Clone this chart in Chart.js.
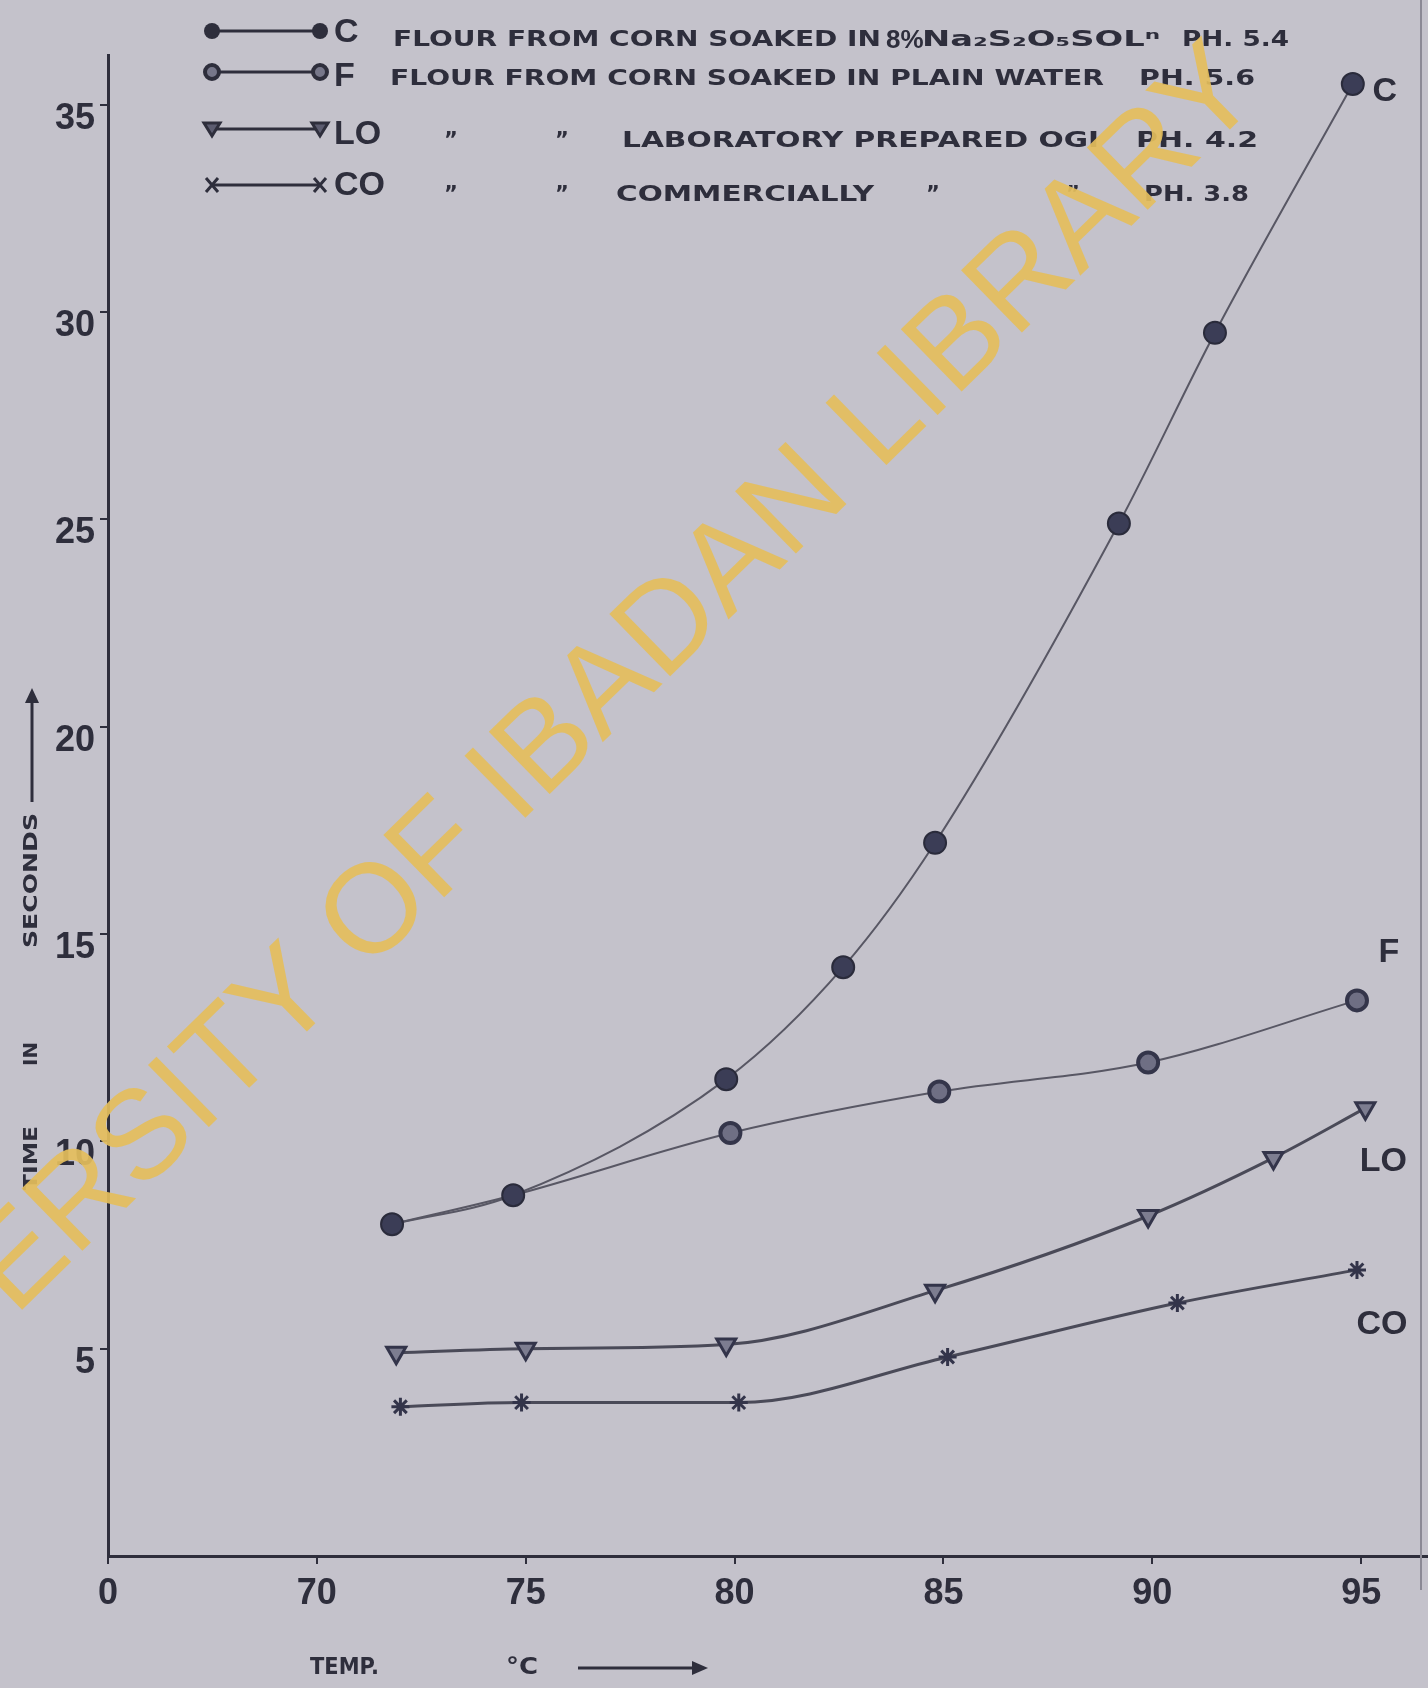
<!DOCTYPE html>
<html>
<head>
<meta charset="utf-8">
<title>Time in seconds against temperature</title>
<script src="https://cdn.jsdelivr.net/npm/chart.js@4.4.1/dist/chart.umd.min.js"></script>
<style>
  html, body { margin: 0; padding: 0; background: #c4c2cb; }
  #wrap { width: 1428px; height: 1688px; }
</style>
</head>
<body>
<div id="wrap"><canvas id="graph" width="1428" height="1688"></canvas></div>
<script>
// readings: temperature (°C) and time (s) for each flour sample
const tempC  = [71.8, 74.7, 79.8, 82.6, 84.8, 89.2, 91.5, 94.8];
const timeC  = [8.0, 8.7, 11.5, 14.2, 17.2, 24.9, 29.5, 35.5];
const tempF  = [71.8, 74.7, 79.9, 84.9, 89.9, 94.9];
const timeF  = [8.0, 8.7, 10.2, 11.2, 11.9, 13.4];
const tempLO = [71.9, 75.0, 79.8, 84.8, 89.9, 92.9, 95.1];
const timeLO = [4.9, 5.0, 5.1, 6.4, 8.2, 9.6, 10.8];
const tempCO = [72.0, 74.9, 80.1, 85.1, 90.6, 94.9];
const timeCO = [3.6, 3.7, 3.7, 4.8, 6.1, 6.9];

const seriesNames = ["C", "F", "LO", "CO"];
const xTickValues = [65, 70, 75, 80, 85, 90, 95];
const xTickLabels = ["0", "70", "75", "80", "85", "90", "95"];
const yTickValues = [5, 10, 15, 20, 25, 30, 35];

// key text, one list of pieces per series
const keyText = [
    ["FLOUR FROM CORN SOAKED IN", "8%", "Na\u2082S\u2082O\u2085SOL\u207F", "PH. 5.4"],
    ["FLOUR FROM CORN SOAKED IN PLAIN WATER", "PH. 5.6"],
    ["\u201D", "\u201D", "LABORATORY PREPARED OGI", "PH. 4.2"],
    ["\u201D", "\u201D", "COMMERCIALLY", "\u201D", "\u201D", "PH. 3.8"]
];
const yTitle = ["TIME", "IN", "SECONDS"];
const xTitle = ["TEMP.", "\u00B0C"];

const ink = "#2e2e3c";
const curve = "#585764";
const paper = "#c4c2cb";

function toPoints(xs, ys) {
    return xs.map((x, i) => ({ x: x, y: ys[i] }));
}

// stretch a string so it spans exactly w pixels from x
function fitText(ctx, text, x, y, w) {
    let m = ctx.measureText(text).width;
    ctx.save();
    ctx.translate(x, y);
    ctx.scale(w / m, 1);
    ctx.textAlign = "left";
    ctx.fillText(text, 0, 0);
    ctx.restore();
}

function keyMark(ctx, kind, x, y) {
    ctx.save();
    ctx.strokeStyle = ink;
    ctx.fillStyle = ink;
    ctx.lineWidth = 3;
    ctx.beginPath();
    if (kind === "dot") {
        ctx.arc(x, y, 8, 0, Math.PI * 2);
        ctx.fill();
    } else if (kind === "ring") {
        ctx.arc(x, y, 7, 0, Math.PI * 2);
        ctx.fillStyle = "#77778a";
        ctx.fill();
        ctx.lineWidth = 4;
        ctx.stroke();
    } else if (kind === "tri") {
        ctx.moveTo(x - 8, y - 6);
        ctx.lineTo(x + 8, y - 6);
        ctx.lineTo(x, y + 7);
        ctx.closePath();
        ctx.fillStyle = "#5c5c70";
        ctx.fill();
        ctx.stroke();
    } else {
        ctx.moveTo(x - 6, y - 7); ctx.lineTo(x + 6, y + 7);
        ctx.moveTo(x + 6, y - 7); ctx.lineTo(x - 6, y + 7);
        ctx.stroke();
    }
    ctx.restore();
}

function drawKey(ctx) {
    const kinds = ["dot", "ring", "tri", "cross"];
    const markY = [31, 72, 129, 185];
    const nameY = [33, 77, 135, 186];
    const textY = [41, 80, 142, 196];
    // start / end of each text piece (end 0 = natural width)
    const spans = [
        [[393, 881], [886, 0], [922, 1160], [1182, 1289]],
        [[390, 1104], [1139, 1255]],
        [[444, 0], [555, 0], [622, 1099], [1136, 1258]],
        [[444, 0], [555, 0], [616, 874], [926, 0], [1066, 0], [1144, 1249]]
    ];
    ctx.save();
    for (let i = 0; i < 4; i++) {
        ctx.strokeStyle = ink;
        ctx.lineWidth = 3;
        ctx.beginPath();
        ctx.moveTo(212, markY[i]);
        ctx.lineTo(320, markY[i]);
        ctx.stroke();
        keyMark(ctx, kinds[i], 212, markY[i]);
        keyMark(ctx, kinds[i], 320, markY[i]);

        ctx.fillStyle = ink;
        ctx.textBaseline = "middle";
        ctx.font = 'bold 34px "Liberation Sans"';
        ctx.textAlign = "left";
        ctx.fillText(seriesNames[i], 334, nameY[i]);

        keyText[i].forEach((t, j) => {
            let s = spans[i][j];
            ctx.font = 'bold 21px "DejaVu Sans"';
            if (s[1] > 0) {
                fitText(ctx, t, s[0], textY[i], s[1] - s[0]);
            } else {
                if (t === "8%") ctx.font = 'bold 26px "Liberation Sans"';
                ctx.textAlign = "left";
                ctx.fillText(t, s[0], textY[i]);
            }
        });
    }
    ctx.restore();
}

function drawTitles(ctx) {
    ctx.save();
    ctx.fillStyle = ink;
    ctx.strokeStyle = ink;
    ctx.textBaseline = "middle";
    ctx.font = 'bold 23px "DejaVu Sans"';

    // temperature title with arrow pointing right
    fitText(ctx, xTitle[0], 310, 1668, 69);
    fitText(ctx, xTitle[1], 506, 1668, 32);
    ctx.lineWidth = 3;
    ctx.beginPath();
    ctx.moveTo(578, 1668);
    ctx.lineTo(700, 1668);
    ctx.stroke();
    ctx.beginPath();
    ctx.moveTo(708, 1668);
    ctx.lineTo(692, 1661);
    ctx.lineTo(692, 1675);
    ctx.closePath();
    ctx.fill();

    // time title, written upwards
    ctx.save();
    ctx.translate(32, 0);
    ctx.rotate(-Math.PI / 2);
    ctx.font = 'bold 20px "DejaVu Sans"';
    fitText(ctx, yTitle[0], -1190, 0, 64);
    fitText(ctx, yTitle[1], -1066, 0, 24);
    fitText(ctx, yTitle[2], -948, 0, 135);
    ctx.lineWidth = 3;
    ctx.beginPath();
    ctx.moveTo(-802, 0);
    ctx.lineTo(-696, 0);
    ctx.stroke();
    ctx.beginPath();
    ctx.moveTo(-688, 0);
    ctx.lineTo(-703, -7);
    ctx.lineTo(-703, 7);
    ctx.closePath();
    ctx.fill();
    ctx.restore();

    // paper edge on the right
    ctx.strokeStyle = "#8b8995";
    ctx.lineWidth = 2;
    ctx.beginPath();
    ctx.moveTo(1421, 0);
    ctx.lineTo(1421, 1590);
    ctx.stroke();
    ctx.restore();
}

function drawEndNames(chart) {
    const ctx = chart.ctx;
    const shift = [[32, 8], [32, -48], [18, 53], [25, 55]];
    ctx.save();
    ctx.fillStyle = ink;
    ctx.font = 'bold 34px "Liberation Sans"';
    ctx.textAlign = "center";
    ctx.textBaseline = "middle";
    for (let i = 0; i < seriesNames.length; i++) {
        let pts = chart.getDatasetMeta(i).data;
        let p = pts[pts.length - 1];
        ctx.fillText(seriesNames[i], p.x + shift[i][0], p.y + shift[i][1]);
    }
    ctx.restore();
}

function drawStamp(ctx) {
    const text = "UNIVERSITY OF IBADAN LIBRARY";
    const tail = "ERSITY OF IBADAN LIBRARY";
    // centres of the first visible E and the last Y
    const ax = 21, ay = 1262, bx = 1210, by = 100;
    const span = Math.hypot(bx - ax, by - ay);
    ctx.save();
    ctx.font = '100px "Liberation Sans"';
    let w100 = ctx.measureText(tail).width;
    let size = span / (w100 / 100 - 0.67);
    ctx.font = size + 'px "Liberation Sans"';
    let ang = Math.atan2(by - ay, bx - ax);
    ctx.translate(bx + Math.cos(ang) * size * 0.33, by + Math.sin(ang) * size * 0.33);
    ctx.rotate(ang);
    ctx.textAlign = "right";
    ctx.textBaseline = "middle";
    ctx.fillStyle = "rgba(228, 190, 92, 0.92)";
    ctx.fillText(text, 0, 0);
    ctx.restore();
}

const paperPlugin = {
    id: "paper",
    beforeDraw(chart) {
        const ctx = chart.ctx;
        ctx.save();
        ctx.fillStyle = paper;
        ctx.fillRect(0, 0, chart.width, chart.height);
        ctx.restore();
    },
    afterDraw(chart) {
        drawKey(chart.ctx);
        drawTitles(chart.ctx);
        drawEndNames(chart);
        drawStamp(chart.ctx);
    }
};

const canvas = document.getElementById("graph");
const graph = new Chart(canvas, {
    type: "line",
    data: {
        datasets: [
            {
                label: seriesNames[0],
                data: toPoints(tempC, timeC),
                borderColor: curve,
                borderWidth: 2,
                pointStyle: "circle",
                pointRadius: 11,
                pointBackgroundColor: "#3b3d56",
                pointBorderColor: "#2a2b3b",
                pointBorderWidth: 2,
                cubicInterpolationMode: "monotone",
                clip: false
            },
            {
                label: seriesNames[1],
                data: toPoints(tempF, timeF),
                borderColor: curve,
                borderWidth: 2,
                pointStyle: "circle",
                pointRadius: (c) => c.dataIndex < 2 ? 0 : 10,
                pointBackgroundColor: "#6f6f84",
                pointBorderColor: "#34354a",
                pointBorderWidth: 4,
                cubicInterpolationMode: "monotone",
                clip: false
            },
            {
                label: seriesNames[2],
                data: toPoints(tempLO, timeLO),
                borderColor: "#4a4a58",
                borderWidth: 3,
                pointStyle: "triangle",
                rotation: 180,
                pointRadius: 11,
                pointBackgroundColor: "#7d7d90",
                pointBorderColor: "#33344a",
                pointBorderWidth: 3,
                cubicInterpolationMode: "monotone",
                clip: false
            },
            {
                label: seriesNames[3],
                data: toPoints(tempCO, timeCO),
                borderColor: "#4a4a58",
                borderWidth: 3,
                pointStyle: "star",
                pointRadius: 9,
                pointBorderColor: "#33344a",
                pointBorderWidth: 3,
                cubicInterpolationMode: "monotone",
                clip: false
            }
        ]
    },
    options: {
        responsive: false,
        animation: false,
        devicePixelRatio: 1,
        events: [],
        layout: {
            autoPadding: false,
            padding: { top: 55, left: 0, right: 0, bottom: 0 }
        },
        plugins: {
            legend: { display: false },
            tooltip: { enabled: false }
        },
        scales: {
            x: {
                type: "linear",
                min: 65,
                max: 96.6,
                afterBuildTicks: (s) => { s.ticks = xTickValues.map(v => ({ value: v })); },
                afterFit: (s) => {
                    s.height = 132;
                    s.paddingLeft = 0;
                    s.paddingRight = 0;
                },
                ticks: {
                    callback: (v) => xTickLabels[xTickValues.indexOf(v)],
                    color: ink,
                    font: { family: "Liberation Sans", size: 36, weight: "bold" },
                    padding: 8,
                    maxRotation: 0,
                    autoSkip: false
                },
                grid: { drawOnChartArea: false, tickLength: 8, color: ink, lineWidth: 2 },
                border: { color: ink, width: 3 }
            },
            y: {
                type: "linear",
                min: 0,
                max: 36.2,
                afterBuildTicks: (s) => { s.ticks = yTickValues.map(v => ({ value: v })); },
                afterFit: (s) => { s.width = 108; },
                ticks: {
                    callback: (v) => String(v),
                    color: ink,
                    font: { family: "Liberation Sans", size: 36, weight: "bold" },
                    padding: 5,
                    labelOffset: 14,
                    autoSkip: false
                },
                grid: { drawOnChartArea: false, tickLength: 8, color: ink, lineWidth: 2 },
                border: { color: ink, width: 3 }
            }
        }
    },
    plugins: [paperPlugin]
});
</script>
</body>
</html>
